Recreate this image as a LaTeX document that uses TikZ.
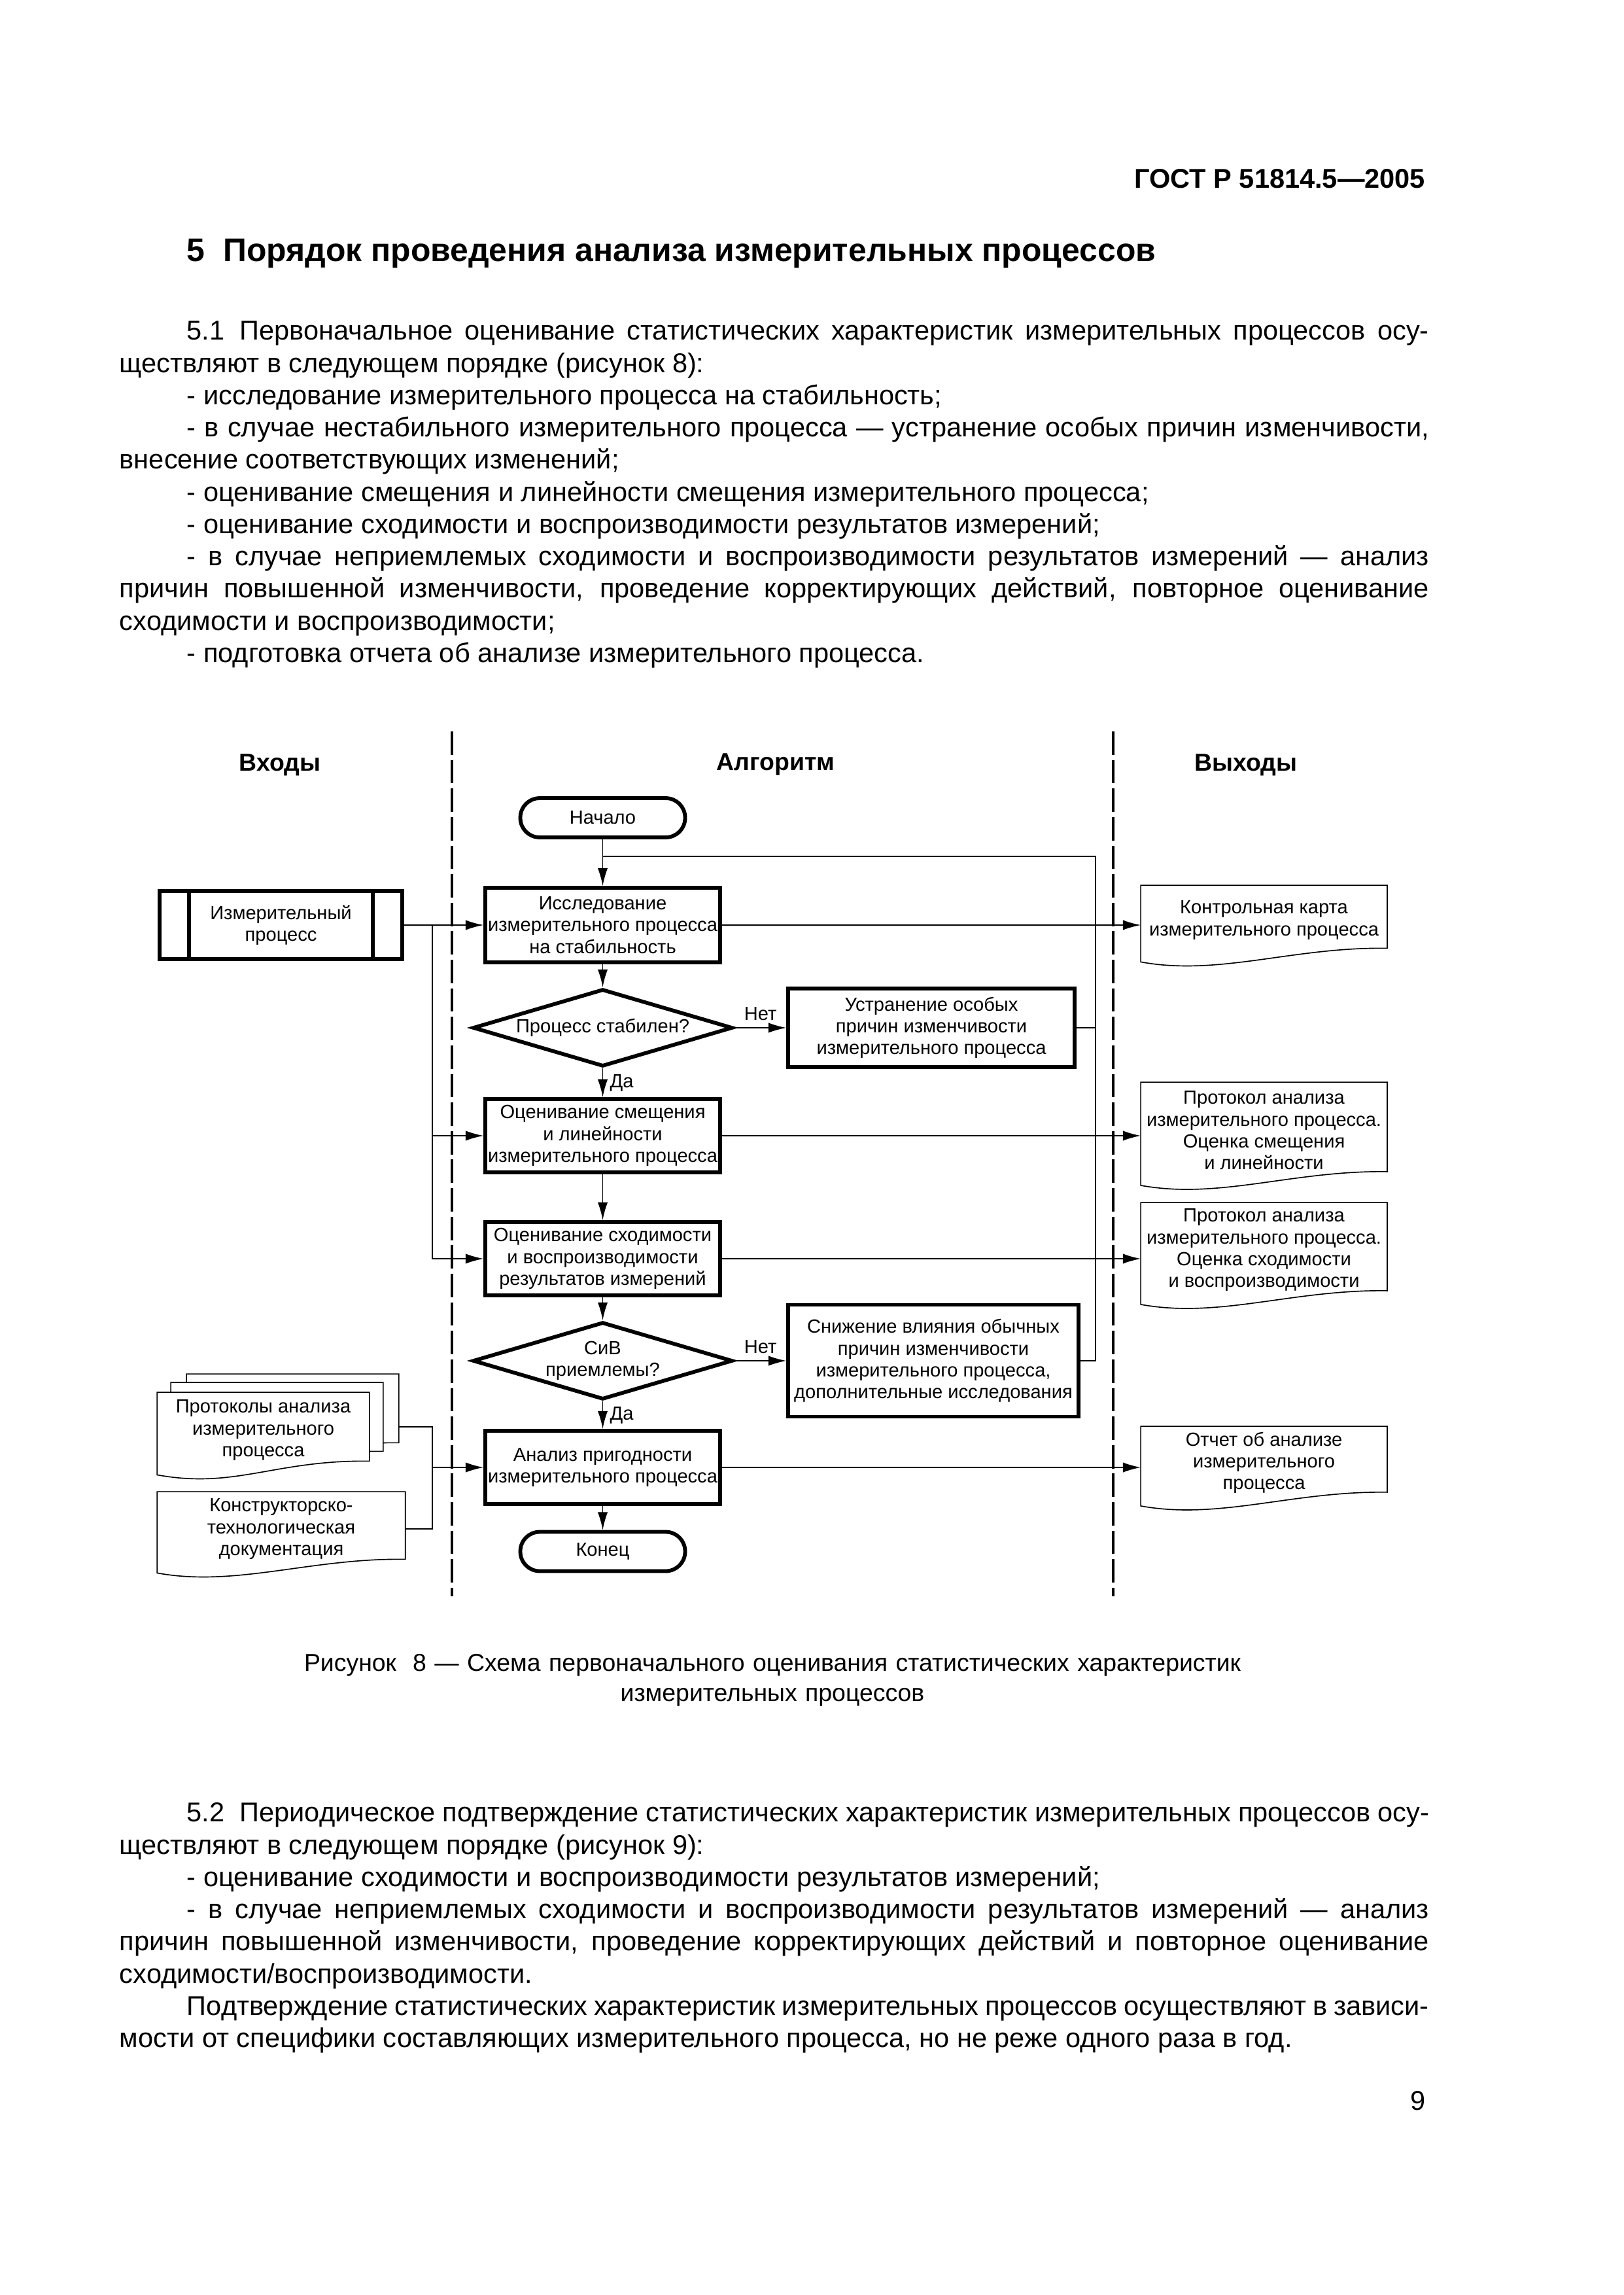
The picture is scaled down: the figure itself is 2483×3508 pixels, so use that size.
\documentclass[tikz,border=0pt]{standalone}
\usepackage{fontspec}
\setmainfont{Liberation Sans}
\usetikzlibrary{arrows.meta,shapes.geometric,calc}
\pgfdeclarelayer{background}
\pgfsetlayers{background,main}

% outline of a document sheet with a wavy bottom, shifted by (#2,#3)
\newcommand\docpath[3]{($(#1.north west)+(#2,#3)$) -- ($(#1.north east)+(#2,#3)$) -- ($(#1.south east)+(#2,#3-10.5)$) .. controls +(-145,-2) and +(120,22) .. ($(#1.south west)+(#2,#3+10.5)$) -- cycle}

\begin{document}
\begin{tikzpicture}[x=0.084575mm, y=-0.084575mm, line width=1.4pt,
	txt/.style={font=\fontsize{7}{8}\selectfont, align=center, inner sep=0pt},
	block/.style={txt, draw, rectangle, minimum width=30.36mm, minimum height=9.5mm},
	term/.style={txt, draw, rounded corners=2.5mm, minimum width=21.31mm, minimum height=5.07mm},
	choice/.style={txt, draw, diamond, aspect=3.3, minimum width=33.6mm, minimum height=10mm},
	doc/.style={txt, minimum width=31.38mm},
	arr/.style={-{Latex[length=2.3mm,width=1.3mm]}},
	lbl/.style={font=\fontsize{7}{8}\selectfont, inner sep=2.5pt},
	divider/.style={line width=1.1pt, dash pattern=on 8.6pt off 1.9pt},
	colhead/.style={font=\fontsize{9}{11}\selectfont\bfseries},
	body/.style={anchor=north west, inner sep=0pt, text width=169.32mm, align=justify,
		font=\fontsize{10}{11.85}\selectfont,
		execute at begin node={\setlength\parindent{8.71mm}\tolerance=9999\emergencystretch=3em}}]
	\useasboundingbox (0,0) rectangle (2483,3508);

	% page text
	\node[anchor=base east, inner sep=0pt, font=\fontsize{10}{12}\selectfont\bfseries] (gost) at (2182,288) {ГОСТ Р 51814.5—2005};
	\node[anchor=base west, inner sep=0pt, font=\fontsize{12}{14}\selectfont\bfseries] (sec) at (283,400) {5~~Порядок проведения анализа измерительных процессов};
	\node[body] (p51) at (180,483.7) {\rule{0pt}{8pt}\hspace*{8.71mm}5.1\hspace{5.5pt}Первоначальное оценивание статистических характеристик измерительных процессов осу-\linebreak ществляют в следующем порядке (рисунок~8):\par
		- исследование измерительного процесса на стабильность;\par
		- в случае нестабильного измерительного процесса~— устранение особых причин изменчивости,\linebreak внесение соответствующих изменений;\par
		- оценивание смещения и линейности смещения измерительного процесса;\par
		- оценивание сходимости и воспроизводимости результатов измерений;\par
		- в случае неприемлемых сходимости и воспроизводимости результатов измерений~— анализ\linebreak причин повышенной изменчивости, проведение корректирующих действий, повторное оценивание\linebreak сходимости и воспроизводимости;\par
		- подготовка отчета об анализе измерительного процесса.};
	\node[anchor=north, inner sep=0pt, text width=160mm, align=center, font=\fontsize{9}{11}\selectfont] (cap) at (1181,2518.6) {\rule{0pt}{8pt}Рисунок~~8~— Схема первоначального оценивания статистических характеристик\\измерительных процессов};
	\node[body] (p52) at (180,2748.7) {\rule{0pt}{8pt}\hspace*{8.71mm}5.2\hspace{5.5pt}Периодическое подтверждение статистических характеристик измерительных процессов осу-\linebreak ществляют в следующем порядке (рисунок~9):\par
		- оценивание сходимости и воспроизводимости результатов измерений;\par
		- в случае неприемлемых сходимости и воспроизводимости результатов измерений~— анализ\linebreak причин повышенной изменчивости, проведение корректирующих действий и повторное оценивание\linebreak сходимости/воспроизводимости.\par
		Подтверждение статистических характеристик измерительных процессов осуществляют в зависи-\linebreak мости от специфики составляющих измерительного процесса, но не реже одного раза в год.};
	\node[anchor=base east, inner sep=0pt, font=\fontsize{10}{12}\selectfont] (pnum) at (2182,3225) {9};

	% columns
	\draw[divider] (691,1118) -- (691,2440);
	\draw[divider] (1702,1118) -- (1702,2440);
	\node[colhead] (hin) at (428,1169) {Входы};
	\node[colhead] (halg) at (1186,1169) {Алгоритм};
	\node[colhead] (hout) at (1905,1169) {Выходы};

	% algorithm
	\node[term] (start) at (921.5,1250) {Начало};
	\node[block, minimum height=9.64mm] (isl) at (921.5,1414) {Исследование\\измерительного процесса\\на стабильность};
	\node[choice] (stab) at (921.5,1571) {Процесс стабилен?};
	\node[block, minimum width=37.04mm, minimum height=10.15mm] (ustr) at (1424,1571) {Устранение особых\\причин изменчивости\\измерительного процесса};
	\node[block] (smesch) at (921.5,1736) {Оценивание смещения\\и линейности\\измерительного процесса};
	\node[block] (shod) at (921.5,1924) {Оценивание сходимости\\и воспроизводимости\\результатов измерений};
	\node[choice] (civ) at (921.5,2080) {СиВ\\приемлемы?};
	\node[block, minimum width=37.55mm, minimum height=14.46mm] (snizh) at (1427,2080) {Снижение влияния обычных\\причин изменчивости\\измерительного процесса,\\дополнительные исследования};
	\node[block] (prig) at (921.5,2243) {Анализ пригодности\\измерительного процесса};
	\node[term] (finish) at (921.5,2371.5) {Конец};

	% inputs
	\node[block, minimum width=31.38mm, minimum height=8.8mm] (izm) at (429.5,1414) {Измерительный\\процесс};
	\draw ($(izm.north west)+(48,0)$) -- ($(izm.south west)+(48,0)$);
	\draw ($(izm.north east)+(-48,0)$) -- ($(izm.south east)+(-48,0)$);
	\node[doc, minimum width=26.98mm, minimum height=9.3mm] (prot) at (402.5,2186) {Протоколы анализа\\измерительного\\процесса};
	\node[doc, minimum width=31.6mm, minimum height=9.13mm] (konstr) at (430,2337) {Конструкторско-\\технологическая\\документация};

	% outputs
	\node[doc, minimum height=8.54mm] (kkarta) at (1932.5,1406.5) {Контрольная карта\\измерительного процесса};
	\node[doc, minimum height=11.97mm] (psmesch) at (1932.5,1727.75) {Протокол анализа\\измерительного процесса.\\Оценка смещения\\и линейности};
	\node[doc, minimum height=11.8mm] (pshod) at (1932.5,1910.75) {Протокол анализа\\измерительного процесса.\\Оценка сходимости\\и воспроизводимости};
	\node[doc, minimum height=8.92mm] (otchet) at (1932.5,2235.75) {Отчет об анализе\\измерительного\\процесса};

	% document sheets
	\begin{pgfonlayer}{background}
		\draw[fill=white] \docpath{prot}{45}{-28};
		\draw[fill=white] \docpath{prot}{21}{-15};
		\draw[fill=white] \docpath{prot}{0}{0};
		\foreach \d in {konstr,kkarta,psmesch,pshod,otchet}
			\draw \docpath{\d}{0}{0};
	\end{pgfonlayer}

	% main flow
	\draw[arr] (start) -- (isl);
	\draw[arr] (isl) -- (stab);
	\draw[arr] (stab) -- node[lbl, right] {Да} (smesch);
	\draw[arr] (smesch) -- (shod);
	\draw[arr] (shod) -- (civ);
	\draw[arr] (civ) -- node[lbl, right] {Да} (prig);
	\draw[arr] (prig) -- (finish);
	\draw[arr] (stab) -- node[lbl, above] {Нет} (ustr);
	\draw[arr] (civ) -- node[lbl, above] {Нет} (snizh);

	% feedback
	\coordinate (fb) at (1675,1309);
	\draw (snizh.east) -| (fb) -- (fb -| start.south);
	\draw (ustr.east) -- (ustr.east -| fb);

	% inputs to blocks
	\coordinate (bus) at (661,1414);
	\coordinate (bus2) at (661,2181);
	\draw[arr] (izm.east) -- (isl.west);
	\draw[arr] (bus) |- (smesch.west);
	\draw[arr] (bus) |- (shod.west);
	\draw ($(prot.east)+(45,-5)$) -- (bus2) |- (konstr.east);
	\draw[arr] (bus2 |- prig.west) -- (prig.west);

	% blocks to outputs
	\draw[arr] (isl.east) -- (isl.east -| kkarta.west);
	\draw[arr] (smesch.east) -- (smesch.east -| psmesch.west);
	\draw[arr] (shod.east) -- (shod.east -| pshod.west);
	\draw[arr] (prig.east) -- (prig.east -| otchet.west);
\end{tikzpicture}
\end{document}
